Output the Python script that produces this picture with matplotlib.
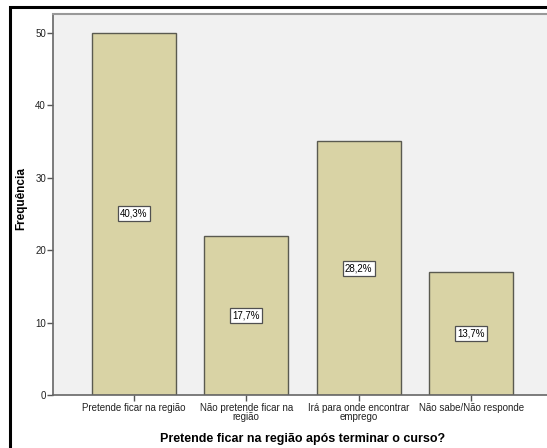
import matplotlib.pyplot as plt
from matplotlib.patches import Rectangle

# dados
categorias = ["Pretende ficar na região", "Não pretende ficar na\nregião",
              "Irá para onde encontrar\nemprego", "Não sabe/Não responde"]
frequencias = [50, 22, 35, 17]
percentagens = ["40,3%", "17,7%", "28,2%", "13,7%"]
yticks = [0, 10, 20, 30, 40, 50]

plt.rcParams["font.family"] = ["Liberation Sans", "DejaVu Sans"]

fig = plt.figure(figsize=(5.47, 4.48), dpi=100)
ax = fig.add_axes([53 / 547, 53 / 448, 499 / 547, 381 / 448])
ax.set_facecolor("#F1F1F1")

x = range(len(categorias))
ax.bar(x, frequencias, width=0.75, color="#D9D3A5", edgecolor="#5A5A50", linewidth=1.0, zorder=2)

# rótulos de percentagem no meio das barras
for i, (v, p) in enumerate(zip(frequencias, percentagens)):
    ax.text(i, v / 2, p, ha="center", va="center", fontsize=7, color="black", zorder=3,
            bbox=dict(boxstyle="square,pad=0.25", facecolor="white", edgecolor="#505050", linewidth=0.9))

ax.set_xlim(-0.72, 3.72)
ax.set_ylim(0, 52.6)
ax.set_yticks(yticks)
ax.set_xticks(list(x))
ax.set_xticklabels(categorias, fontsize=7, linespacing=0.8, color="#222222")
ax.tick_params(axis="y", labelsize=7, length=4, width=1, color="#555555", labelcolor="#222222", pad=1)
ax.tick_params(axis="x", length=4, width=1, color="#555555", pad=2)

for s in ["left", "bottom"]:
    ax.spines[s].set_color("#666666")
    ax.spines[s].set_linewidth(1.2)
ax.spines["top"].set_color("#999999")
ax.spines["top"].set_linewidth(1.5)
ax.spines["right"].set_visible(False)

ax.set_xlabel("Pretende ficar na região após terminar o curso?", fontsize=9, fontweight="bold", labelpad=8)
ax.set_ylabel("Frequência", fontsize=8.5, fontweight="bold")
ax.yaxis.set_label_coords(-0.052, 0.515)

# moldura exterior preta
fig.patches.append(Rectangle((9.5 / 547, -0.05), 1.1, (448 - 7.5) / 448 + 0.05, transform=fig.transFigure,
                             fill=False, edgecolor="black", linewidth=2.2))

fig.savefig("out.png", dpi=100)
